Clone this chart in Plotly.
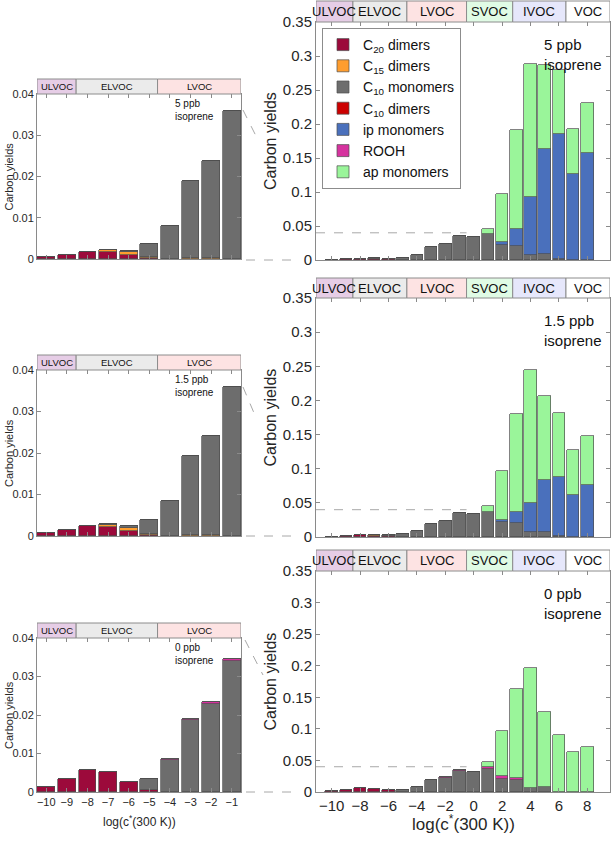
import plotly.graph_objects as go

# ---------------- data ----------------
bins = list(range(-10, 9))           # log10 c* (300 K) bins
inset_bins = list(range(-10, 0))     # bins shown in the inset panels

species = ["C<sub>20</sub> dimers", "C<sub>15</sub> dimers", "C<sub>10</sub> monomers",
           "C<sub>10</sub> dimers", "ip monomers", "ROOH", "ap monomers"]

Z = 0
# 5 ppb isoprene
c20_5 = [0.0005, 0.00105, 0.0017, 0.0017, 0.0009, 0.0002, Z, Z, Z, Z, Z, Z, Z, Z, Z, Z, Z, Z, Z]
c15_5 = [Z, Z, Z, 0.0004, 0.0008, 0.0004, Z, 0.0002, 0.0002, Z, Z, Z, Z, Z, Z, Z, Z, Z, Z]
c10m_5 = [Z, Z, 0.0001, 0.0002, 0.0002, 0.0030, 0.0080, 0.0186, 0.0236, 0.0360,
          0.0335, 0.0377, 0.0220, 0.0206, 0.0078, 0.0083, 0.0010, Z, Z]
c10d_5 = [Z] * 19
ip_5 = [Z] * 12 + [0.0040, 0.0254, 0.0850, 0.1550, 0.1850, 0.1260, 0.1580]
rooh_5 = [Z] * 19
ap_5 = [Z] * 11 + [0.0083, 0.0715, 0.1450, 0.1950, 0.1230, 0.0930, 0.0660, 0.0730]

# 1.5 ppb isoprene
c20_15 = [0.00065, 0.00145, 0.0023, 0.0021, 0.0011, 0.0002, Z, Z, Z, Z, Z, Z, Z, Z, Z, Z, Z, Z, Z]
c15_15 = [Z, Z, Z, 0.0006, 0.0008, 0.0004, Z, 0.0002, 0.0002, Z, Z, Z, Z, Z, Z, Z, Z, Z, Z]
c10m_15 = [Z, Z, 0.0001, 0.0003, 0.0004, 0.0032, 0.0084, 0.0191, 0.0238, 0.0358,
           0.0330, 0.0370, 0.0220, 0.0206, 0.0074, 0.0074, 0.0010, Z, Z]
c10d_15 = [Z] * 19
ip_15 = [Z] * 12 + [0.0035, 0.0154, 0.0430, 0.0766, 0.0870, 0.0610, 0.0755]
rooh_15 = [Z] * 19
ap_15 = [Z] * 11 + [0.0090, 0.0710, 0.1440, 0.1945, 0.1220, 0.0930, 0.0660, 0.0730]

# 0 ppb isoprene
c20_0 = [0.0014, 0.0035, 0.0056, 0.0051, 0.0026, 0.0004, Z, Z, Z, Z, Z, Z, Z, Z, Z, Z, Z, Z, Z]
c15_0 = [Z] * 19
c10m_0 = [Z, Z, Z, Z, Z, 0.0031, 0.0084, 0.0186, 0.0228, 0.0340,
          0.0316, 0.0360, 0.0205, 0.0184, 0.0068, 0.0074, Z, Z, Z]
c10d_0 = [Z] * 19
ip_0 = [Z] * 19
rooh_0 = [Z] * 6 + [0.0002, 0.0004, 0.0005, 0.0005, Z, 0.0040, 0.0055, 0.0042, Z, Z, Z, Z, Z]
ap_0 = [Z] * 11 + [0.0074, 0.0703, 0.1410, 0.1890, 0.1196, 0.0900, 0.0640, 0.0710]

scen_labels = ["5 ppb<br>isoprene", "1.5 ppb<br>isoprene", "0 ppb<br>isoprene"]
scenarios = [
    [c20_5, c15_5, c10m_5, c10d_5, ip_5, rooh_5, ap_5],
    [c20_15, c15_15, c10m_15, c10d_15, ip_15, rooh_15, ap_15],
    [c20_0, c15_0, c10m_0, c10d_0, ip_0, rooh_0, ap_0],
]

band_names = ["ULVOC", "ELVOC", "LVOC", "SVOC", "IVOC", "VOC"]
inset_band_names = ["ULVOC", "ELVOC", "LVOC"]

right_yticks = [0, 0.05, 0.1, 0.15, 0.2, 0.25, 0.3, 0.35]
right_yticktext = ["0", "0.05", "0.1", "0.15", "0.2", "0.25", "0.3", "0.35"]
left_yticks = [0, 0.01, 0.02, 0.03, 0.04]
left_yticktext = ["0", "0.01", "0.02", "0.03", "0.04"]
right_xticks = [-10, -8, -6, -4, -2, 0, 2, 4, 6, 8]

# ---------------- style ----------------
colors = ["#9C0A3B", "#FF9D2E", "#6D6D6D", "#CC0000", "#4A70BC", "#D6339F", "#9AF59A"]
band_colors = ["#E6CDE6", "#EBEBEB", "#FDE3E3", "#E0FBE5", "#E6E7FB", "#FFFFFF"]
FONT = "Liberation Sans, Arial, Helvetica, sans-serif"
TXT = "#262626"
AXC = "#8a8a8a"

W, H = 611, 842
def px(x): return x / W
def py(y): return 1 - y / H

R_X = (316, 610)
L_X = (37, 241)
R_RANGE = [-11.1, 9.6]
L_RANGE = [-10.45, -0.55]
R_EDGES = [R_RANGE[0], -8.5, -4.7, -0.5, 2.75, 6.5, R_RANGE[1]]
L_EDGES = [L_RANGE[0], -8.55, -4.6, L_RANGE[1]]

# (plot top px, plot bottom px, band top px)
R_V = [(22, 260, 1), (298, 537, 278), (571, 792, 550)]
L_V = [(94, 259, 79), (370, 536, 355), (638, 792, 623)]

fig = go.Figure()
layout = dict(
    width=W, height=H, margin=dict(l=0, r=0, t=0, b=0, pad=0, autoexpand=False),
    paper_bgcolor="white", plot_bgcolor="white",
    barmode="stack", bargap=0,
    font=dict(family=FONT, color=TXT),
    showlegend=True,
    legend=dict(x=px(322), y=py(28), xanchor="left", yanchor="top",
                bordercolor="#8c8c8c", borderwidth=1, bgcolor="white",
                font=dict(size=14, color="#111"), traceorder="normal",
                tracegroupgap=0, itemwidth=30),
)
shapes = []
annos = []

def txt(x, y, text, size, xanchor="center", yanchor="middle", **kw):
    d = dict(x=x, y=y, text=text, showarrow=False, xanchor=xanchor, yanchor=yanchor,
             font=dict(size=size, color=kw.pop("color", TXT), family=FONT))
    d.update(kw)
    return d

def add_panel(idx, scen, side):
    n = idx + 1
    xa = "x" if n == 1 else f"x{n}"
    ya = "y" if n == 1 else f"y{n}"
    if side == "R":
        xb = bins
        vals = scenarios[scen]
        width = 0.88
        top, bot, btop = R_V[scen]
        xdom = R_X
        xr, edges, names = R_RANGE, R_EDGES, band_names
        yr, ytv, ytt = [0, 0.35], right_yticks, right_yticktext
        xtv = right_xticks
        tick_fs = 15
    else:
        xb = inset_bins
        vals = [v[:10] for v in scenarios[scen]]
        width = 0.86
        top, bot, btop = L_V[scen]
        xdom = L_X
        xr, edges, names = L_RANGE, L_EDGES, inset_band_names
        yr, ytv, ytt = [0, 0.04], left_yticks, left_yticktext
        xtv = inset_bins
        tick_fs = 11
    for k, (name, col) in enumerate(zip(species, colors)):
        fig.add_trace(go.Bar(
            x=xb, y=vals[k], name=name, width=width,
            marker=dict(color=col, line=dict(color="#4f4f4f", width=0.7)),
            xaxis=xa, yaxis=ya, legendgroup=name,
            showlegend=(idx == 0),
        ))
    show_xlab = scen == 2
    layout["xaxis" + ("" if n == 1 else str(n))] = dict(
        domain=[px(xdom[0]), px(xdom[1])], anchor=ya, range=xr, automargin=False,
        tickvals=xtv, showticklabels=show_xlab, ticks="inside", ticklen=4,
        tickcolor=AXC, showline=True, linecolor=AXC, linewidth=1, mirror="ticks",
        showgrid=False, zeroline=False,
        tickfont=dict(size=tick_fs, color=TXT, family=FONT),
    )
    layout["yaxis" + ("" if n == 1 else str(n))] = dict(
        domain=[py(bot), py(top)], anchor=xa, range=yr, automargin=False,
        tickvals=ytv, ticktext=ytt, ticks="inside", ticklen=4,
        tickcolor=AXC, showline=True, linecolor=AXC, linewidth=1, mirror="ticks",
        showgrid=False, zeroline=False,
        tickfont=dict(size=tick_fs, color=TXT, family=FONT),
    )
    # category bands
    for j, nm in enumerate(names):
        shapes.append(dict(type="rect", xref=xa, yref="paper",
                           x0=edges[j], x1=edges[j + 1], y0=py(top), y1=py(btop),
                           fillcolor=band_colors[j], line=dict(color="#8c8c8c", width=1),
                           layer="above"))
        annos.append(txt((edges[j] + edges[j + 1]) / 2, (py(top) + py(btop)) / 2, nm,
                         13 if side == "R" else 9.5, xref=xa, yref="paper", color="#111"))
    if side == "R":
        annos.append(txt(px(542), py(top + 12), scen_labels[scen], 15,
                         xanchor="left", yanchor="top", align="left",
                         xref="paper", yref="paper", color="#111"))
        annos.append(txt(px(270), py((top + bot) / 2), "Carbon yields", 16,
                         textangle=-90, xref="paper", yref="paper"))
        # dashed zoom-region line
        shapes.append(dict(type="line", xref=xa, yref=ya, x0=R_RANGE[0], x1=-0.5,
                           y0=0.04, y1=0.04,
                           line=dict(color="#a8a8a8", width=1, dash="dash")))
    else:
        annos.append(txt(px(173), py(top + 2), scen_labels[scen], 10,
                         xanchor="left", yanchor="top", align="left",
                         xref="paper", yref="paper", color="#111"))
        annos.append(txt(px(9), py((top + bot) / 2), "Carbon yields", 11,
                         textangle=-90, xref="paper", yref="paper"))

for s in range(3):
    add_panel(s, s, "R")
for s in range(3):
    add_panel(3 + s, s, "L")

# x-axis titles
annos.append(txt(px(463), py(823), "log(c<sup>*</sup>(300 K))", 17, xref="paper", yref="paper"))
annos.append(txt(px(139), py(821), "log(c<sup>*</sup>(300 K))", 12, xref="paper", yref="paper"))

# connector dashed lines between inset and main panels
conn = [((243, 110), (258, 140), 260), ((243, 387), (257, 420), 536), ((245, 640), (263, 675), 792)]
for (a, b, yb) in conn:
    shapes.append(dict(type="line", xref="paper", yref="paper",
                       x0=px(a[0]), y0=py(a[1]), x1=px(b[0]), y1=py(b[1]),
                       line=dict(color="#a8a8a8", width=1, dash="dash")))
    shapes.append(dict(type="line", xref="paper", yref="paper",
                       x0=px(246), y0=py(yb), x1=px(298), y1=py(yb),
                       line=dict(color="#a8a8a8", width=1, dash="dash")))

layout["shapes"] = shapes
layout["annotations"] = annos
fig.update_layout(**layout)
fig.write_html("out.html", config={"displayModeBar": False},
               post_script="document.body.style.margin='0';document.body.style.overflow='hidden';")
